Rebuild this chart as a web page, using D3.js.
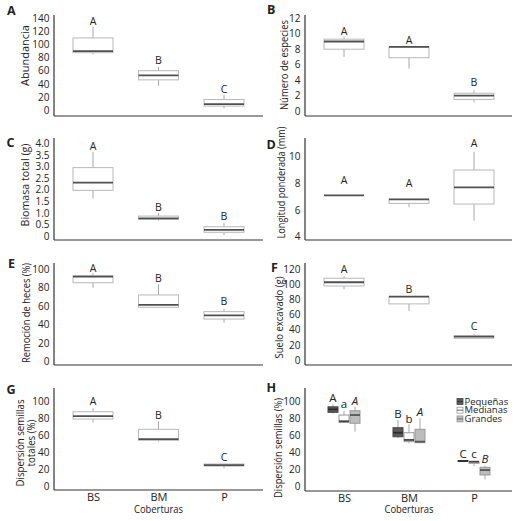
<!DOCTYPE html>
<html>
<head>
<meta charset="utf-8">
<script src="https://cdn.jsdelivr.net/npm/d3@7"></script>
<style>
body { margin: 0; background: #fff; }
text { font-family: "Open Sans", sans-serif; fill: #222; }
</style>
</head>
<body>
<div id="chart"></div>
<script>
var coberturas = ["BS", "BM", "P"];

// [min, q1, mediana, q3, max] por cobertura
var abundancia = [[85, 87.5, 90, 110, 127], [37, 46, 53, 60, 66], [2.6, 6, 9, 16, 23]];
var abundancia_letras = ["A", "B", "C"];
var abundancia_letras_y = [130, 70, 25.5];
var abundancia_ticks = [0, 20, 40, 60, 80, 100, 120, 140];

var especies = [[7.0, 8.0, 9.0, 9.3, 9.6], [5.5, 6.9, 8.3, 8.3, 8.3], [1.1, 1.5, 2.0, 2.3, 2.7]];
var especies_letras = ["A", "A", "B"];
var especies_letras_y = [9.83, 8.67, 3.23];
var especies_ticks = [0, 2, 4, 6, 8, 10, 12];

var biomasa = [[1.62, 1.97, 2.3, 2.95, 3.63], [0.66, 0.72, 0.76, 0.86, 0.98], [0.04, 0.16, 0.26, 0.40, 0.57]];
var biomasa_letras = ["A", "B", "B"];
var biomasa_letras_y = [3.71, 1.09, 0.69];
var biomasa_ticks = [0, 0.5, 1, 1.5, 2, 2.5, 3, 3.5, 4];

var longitud = [[7.1, 7.1, 7.1, 7.1, 7.1], [6.2, 6.5, 6.8, 6.8, 6.8], [5.2, 6.45, 7.7, 9.0, 10.37]];
var longitud_letras = ["A", "A", "A"];
var longitud_letras_y = [7.95, 7.7, 10.75];
var longitud_ticks = [4, 6, 8, 10];

var remocion = [[79.8, 85.2, 91.7, 92.8, 95.3], [58, 58.7, 61.2, 72, 83.5], [42, 46, 50, 54, 56.8]];
var remocion_letras = ["A", "B", "B"];
var remocion_letras_y = [97, 86.3, 61.2];
var remocion_ticks = [0, 20, 40, 60, 80, 100];

var suelo = [[93.2, 97.6, 102.5, 107.8, 111], [64.6, 74, 83.5, 83.5, 83.5], [28, 28.6, 30.8, 32, 34.3]];
var suelo_letras = ["A", "B", "C"];
var suelo_letras_y = [114.4, 88, 39.6];
var suelo_ticks = [0, 20, 40, 60, 80, 100, 120];

var dispersion = [[75.7, 79.6, 83.1, 88.2, 92.2], [53, 54.6, 56, 67.5, 76.5], [21.6, 24.3, 25.5, 26.7, 27]];
var dispersion_letras = ["A", "B", "C"];
var dispersion_letras_y = [96.1, 79.3, 30.2];
var dispersion_ticks = [0, 20, 40, 60, 80, 100];

// panel H, por tamano de semilla
var tamanos = ["Pequeñas", "Medianas", "Grandes"];
var pequenas = [[86, 87.5, 91, 94, 97], [57, 58.8, 63.5, 69.4, 78.5], [29.8, 29.8, 30.2, 30.6, 30.6]];
var medianas = [[75, 75.7, 77, 84.3, 89.4], [51, 53, 55, 63.5, 73.4], [24.3, 27.5, 29.4, 29.4, 29.4]];
var grandes = [[64.7, 74.6, 84.3, 89.4, 94], [51, 51.8, 53, 67.5, 80.5], [8.7, 13.8, 19.6, 22.8, 24.7]];
var pequenas_letras = ["A", "B", "C"];
var medianas_letras = ["a", "b", "c"];
var grandes_letras = ["A", "A", "B"];
var pequenas_letras_y = [100, 80.5, 33.4];
var medianas_letras_y = [92.2, 74.6, 33.4];
var grandes_letras_y = [96.1, 83.2, 27.5];

var svg = d3.select("#chart").append("svg").attr("width", 528).attr("height", 521);

var cols = [
    {axisX: 54, right: 263, x: d3.scalePoint().domain(coberturas).range([93, 224])},
    {axisX: 305, right: 512, x: d3.scalePoint().domain(coberturas).range([344, 474])}
];

function fmt1(d) { return d === 0 ? "0" : d.toFixed(1); }

// labSpan: length the rotated title takes in the figure (px); text is condensed to fit
var panels = [
    {tag: "A", tagXY: [7, 15], col: 0, top: 15, base: 116, dom: [0, 140], rng: [110, 18.3], ticks: abundancia_ticks,
     data: abundancia, letras: abundancia_letras, letrasY: abundancia_letras_y, label: ["Abundancia"], labXY: [25, 55.5], labSpan: 66},
    {tag: "B", tagXY: [267, 13.5], col: 1, top: 15, base: 116, dom: [0, 12], rng: [111, 18.3], ticks: especies_ticks,
     data: especies, letras: especies_letras, letrasY: especies_letras_y, label: ["Número de especies"], labXY: [284, 65], labSpan: 90},
    {tag: "C", tagXY: [6.5, 147], col: 0, top: 138, base: 240, dom: [0, 4], rng: [236, 143.3], ticks: biomasa_ticks, fmt: fmt1,
     data: biomasa, letras: biomasa_letras, letrasY: biomasa_letras_y, label: ["Biomasa total (g)"], labXY: [25, 185], labSpan: 83},
    {tag: "D", tagXY: [266.5, 148.5], col: 1, top: 138, base: 240, dom: [4, 10], rng: [236.7, 156.7], ticks: longitud_ticks,
     data: longitud, letras: longitud_letras, letrasY: longitud_letras_y, label: ["Longitud ponderada (mm)"], labXY: [280.7, 182.5], labSpan: 112},
    {tag: "E", tagXY: [8, 268], col: 0, top: 263, base: 365, dom: [0, 100], rng: [361.7, 269], ticks: remocion_ticks,
     data: remocion, letras: remocion_letras, letrasY: remocion_letras_y, label: ["Remoción de heces (%)"], labXY: [26, 313], labSpan: 100},
    {tag: "F", tagXY: [271, 272], col: 1, top: 263, base: 365, dom: [0, 120], rng: [360, 269], ticks: suelo_ticks,
     data: suelo, letras: suelo_letras, letrasY: suelo_letras_y, label: ["Suelo excavado (g)"], labXY: [279, 317.5], labSpan: 82},
    {tag: "G", tagXY: [6.5, 393.5], col: 0, top: 388, base: 490, dom: [0, 100], rng: [486.7, 401.7], ticks: dispersion_ticks,
     data: dispersion, letras: dispersion_letras, letrasY: dispersion_letras_y, label: ["Dispersión semillas", "totales (%)"], labXY: [20.5, 443], labSpan: 87, bottom: true},
    {tag: "H", tagXY: [266.5, 392], col: 1, top: 388, base: 491, dom: [0, 100], rng: [486.7, 401.7], ticks: dispersion_ticks,
     label: ["Dispersión semillas (%)"], labXY: [278, 448], labSpan: 100, bottom: true}
];

function draw_box(g, cx, w, s, y, fill, stroke, med) {
    g.append("line").attr("x1", cx).attr("x2", cx).attr("y1", y(s[3])).attr("y2", y(s[4]))
        .attr("stroke", "#a8a8a8").attr("stroke-width", 1);
    g.append("line").attr("x1", cx).attr("x2", cx).attr("y1", y(s[1])).attr("y2", y(s[0]))
        .attr("stroke", "#a8a8a8").attr("stroke-width", 1);
    g.append("rect").attr("x", cx - w / 2).attr("y", y(s[3])).attr("width", w)
        .attr("height", Math.max(0, y(s[1]) - y(s[3])))
        .attr("fill", fill).attr("stroke", stroke).attr("stroke-width", 1);
    g.append("line").attr("x1", cx - w / 2).attr("x2", cx + w / 2).attr("y1", y(s[2])).attr("y2", y(s[2]))
        .attr("stroke", med).attr("stroke-width", 1.8);
}

panels.forEach(function(p) {
    var c = cols[p.col];
    var g = svg.append("g");
    var y = d3.scaleLinear().domain(p.dom).range(p.rng);

    // axes lines
    g.append("line").attr("x1", c.axisX).attr("x2", c.axisX).attr("y1", p.top).attr("y2", p.base)
        .attr("stroke", "#333").attr("stroke-width", 1.2);
    g.append("line").attr("x1", c.axisX).attr("x2", c.right).attr("y1", p.base).attr("y2", p.base)
        .attr("stroke", "#333").attr("stroke-width", 1.2);

    var ya = g.append("g").attr("transform", "translate(" + c.axisX + ",0)")
        .call(d3.axisLeft(y).tickValues(p.ticks).tickSize(0).tickPadding(4.5).tickFormat(p.fmt || d3.format("d")));
    ya.select(".domain").remove();
    ya.selectAll("text").attr("font-family", "Open Sans").attr("font-size", 10).attr("fill", "#222");

    if (p.bottom) {
        var xa = g.append("g").attr("transform", "translate(0," + p.base + ")")
            .call(d3.axisBottom(c.x).tickSize(0).tickPadding(3.5));
        xa.select(".domain").remove();
        xa.selectAll("text").attr("font-family", "Open Sans").attr("font-size", 11).attr("fill", "#222");
        g.append("text").attr("x", c.x("BM")).attr("y", 512.5).attr("text-anchor", "middle")
            .attr("font-size", 11).attr("textLength", 49).attr("lengthAdjust", "spacingAndGlyphs").text("Coberturas");
    }

    // panel tag
    g.append("text").attr("x", p.tagXY[0]).attr("y", p.tagXY[1]).attr("font-size", 12.5)
        .attr("font-weight", "bold").attr("fill", "#111").text(p.tag);

    // y label, condensed so the first line spans labSpan
    var labs = p.label.map(function(t, i) {
        return g.append("text").attr("transform", "translate(" + (p.labXY[0] + i * 11) + "," + p.labXY[1] + ") rotate(-90)")
            .attr("text-anchor", "middle").attr("dy", "0.35em").attr("font-size", 11).text(t);
    });
    var k0 = Math.min(1, p.labSpan / labs[0].node().getComputedTextLength());
    labs.forEach(function(t) {
        var l = t.node().getComputedTextLength();
        t.attr("textLength", l * k0).attr("lengthAdjust", "spacingAndGlyphs");
    });

    if (p.data) {
        p.data.forEach(function(s, i) {
            draw_box(g, c.x(coberturas[i]), 40, s, y, "#fff", "#b8b8b8", "#505050");
            g.append("text").attr("x", c.x(coberturas[i])).attr("y", y(p.letrasY[i]))
                .attr("text-anchor", "middle").attr("font-size", 10.5).text(p.letras[i]);
        });
    } else {
        var series = [
            {d: pequenas, l: pequenas_letras, ly: pequenas_letras_y, fill: "#5b5b5b", stroke: "#444", med: "#2e2e2e", it: false},
            {d: medianas, l: medianas_letras, ly: medianas_letras_y, fill: "#fff", stroke: "#999", med: "#444", it: false},
            {d: grandes, l: grandes_letras, ly: grandes_letras_y, fill: "#bdbdbd", stroke: "#999", med: "#555", it: true}
        ];
        var off = d3.scalePoint().domain(tamanos).range([-11, 11]);
        series.forEach(function(sr, k) {
            sr.d.forEach(function(s, i) {
                var cx = c.x(coberturas[i]) + off(tamanos[k]);
                draw_box(g, cx, 10, s, y, sr.fill, sr.stroke, sr.med);
                g.append("text").attr("x", cx).attr("y", y(sr.ly[i])).attr("text-anchor", "middle")
                    .attr("font-size", 11.5).attr("font-style", sr.it ? "italic" : "normal").text(sr.l[i]);
            });
        });
        // legend
        var leg = g.append("g").attr("transform", "translate(457,0)");
        series.forEach(function(sr, k) {
            var ly = 404.5 + k * 8.7;
            leg.append("rect").attr("x", 0).attr("y", ly - 6).attr("width", 6).attr("height", 6)
                .attr("fill", sr.fill).attr("stroke", sr.stroke).attr("stroke-width", 0.8);
            leg.append("line").attr("x1", 0).attr("x2", 6).attr("y1", ly - 3).attr("y2", ly - 3)
                .attr("stroke", sr.med).attr("stroke-width", 0.8);
            leg.append("text").attr("x", 7.5).attr("y", ly).attr("font-size", 9.5).text(tamanos[k]);
        });
    }
});
</script>
</body>
</html>
